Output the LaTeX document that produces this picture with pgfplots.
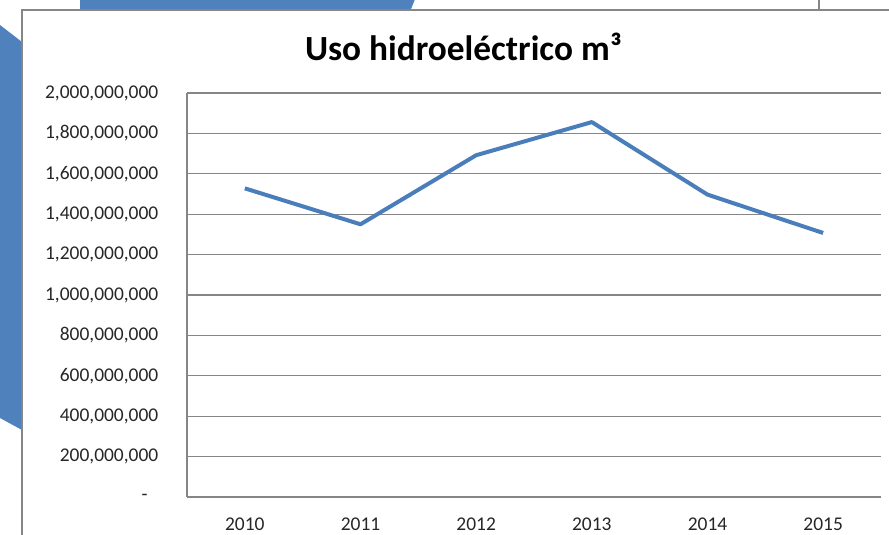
\documentclass[border=0pt]{standalone}
\usepackage{pgfplots}
\pgfplotsset{compat=1.18}
\usepackage{fontspec}
\setmainfont{Carlito}
\definecolor{serie}{HTML}{4A7EBB}
\definecolor{fondo}{HTML}{4F81BD}
\definecolor{rejilla}{HTML}{868686}
\begin{document}
\begin{tikzpicture}
% lienzo de 889x535 px (1 px = 0.75pt)
\useasboundingbox (0,0) rectangle (666.75pt,-401.25pt);
% formas del fondo
\fill[fondo] (0,-18.75pt) -- (16.5pt,-31.5pt) -- (16.5pt,-322.5pt) -- (0,-313.5pt) -- cycle;
\fill[fondo] (60pt,0) -- (311pt,0) -- (308pt,-7.5pt) -- (60pt,-7.5pt) -- cycle;
\draw[rejilla, line width=1.5pt] (614.25pt,0) -- (614.25pt,-7.5pt);
\draw[rejilla, line width=0.8pt] (16.5pt,-401.25pt) -- (16.5pt,-7.5pt) -- (666.75pt,-7.5pt);
% titulo
\node[font=\fontsize{26.5}{30}\selectfont\bfseries] at (347.5pt,-35pt) {Uso hidroeléctrico m³};
\begin{axis}[
    at={(140.25pt,-372.75pt)}, anchor=south west,
    scale only axis,
    width=520.5pt, height=303pt,
    xmin=-0.5, xmax=5.5,
    ymin=0, ymax=2000000000,
    xtick={0,1,2,3,4,5},
    xticklabels={2010,2011,2012,2013,2014,2015},
    ytick={0,200000000,400000000,600000000,800000000,1000000000,1200000000,1400000000,1600000000,1800000000,2000000000},
    yticklabels={{-\kern8pt},{200,000,000},{400,000,000},{600,000,000},{800,000,000},{1,000,000,000},{1,200,000,000},{1,400,000,000},{1,600,000,000},{1,800,000,000},{2,000,000,000}},
    scaled y ticks=false,
    ymajorgrids,
    grid style={rejilla, line width=0.8pt},
    axis x line*=bottom, axis y line*=left,
    axis line style={rejilla, line width=0.8pt, -},
    major tick length=0pt,
    tick label style={font=\fontsize{14.6}{16}\selectfont, text=black!85},
    yticklabel style={xshift=-18pt},
    xticklabel style={yshift=-12pt},
    clip=false,
]
\addplot[serie, line width=3pt, line join=round] coordinates {
  (0,1528000000)
  (1,1350000000)
  (2,1692000000)
  (3,1856000000)
  (4,1497000000)
  (5,1307000000)
};
\end{axis}
\end{tikzpicture}
\end{document}
